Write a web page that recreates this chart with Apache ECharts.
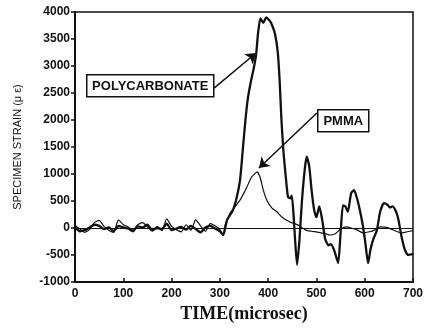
<!DOCTYPE html>
<html>
<head>
<meta charset="utf-8">
<script src="https://cdn.jsdelivr.net/npm/echarts@6/dist/echarts.min.js"></script>
<style>
  html, body { margin: 0; padding: 0; background: #fff; }
  #chart { width: 426px; height: 329px; }
</style>
</head>
<body>
<div id="chart"></div>
<script>
// strain readings (micro-strain) against time (microsec)
const pcTime = [0, 10, 20, 30, 40, 50, 60, 70, 80, 90, 100, 110, 120, 130, 140, 150, 160, 170, 180, 190,
  200, 210, 220, 230, 240, 250, 260, 270, 280, 290, 300, 307, 315, 327, 335, 342, 348, 353, 358, 364,
  370, 375, 379, 384, 390, 396, 402, 406, 414, 420, 424, 427, 431, 436, 441, 446, 449, 453, 456, 460,
  465, 470, 476, 480, 485, 490, 495, 500, 506, 512, 518, 525, 530, 537, 545, 550, 555, 560, 565, 572,
  578, 584, 590, 596, 601, 607, 612, 618, 625, 632, 640, 647, 652, 658, 665, 670, 676, 683, 690, 700];
const pcStrain = [20, -60, -40, 10, 60, 40, -20, 10, -60, 40, 10, -10, -60, 30, 10, 60, -40, 0, -20, 80,
  -40, -10, 20, -30, 40, -20, -80, 10, 40, -10, -60, -130, 150, 330, 570, 900, 1500, 2000, 2400, 2700,
  2950, 3200, 3600, 3880, 3800, 3900, 3850, 3800, 3600, 3250, 2700, 2100, 1500, 1000, 580, 550, 600, 200, -250, -680,
  -200, 500, 1100, 1320, 1150, 700, 350, 200, 400, 150, -200, -320, -300, -420, -650, -100, 420, 400, 300, 650,
  700, 550, 330, 50, -250, -650, -400, -200, -50, 300, 460, 430, 380, 400, 300, 150, -150, -400, -500, -480];

const pmmaTime = [0, 10, 20, 30, 40, 50, 60, 70, 80, 90, 100, 110, 120, 130, 140, 150, 160, 170, 180, 190,
  200, 210, 220, 230, 240, 250, 260, 270, 280, 290, 300, 307, 311, 321, 332, 342, 350, 356, 366, 372,
  377, 383, 390, 397, 408, 418, 429, 445, 455, 465, 478, 490, 505, 520, 528, 540, 550, 562, 572, 585,
  596, 610, 620, 632, 645, 655, 665, 677, 688, 700];
const pmmaStrain = [50, -20, -80, -30, 100, 140, 30, -40, -80, 150, 60, 20, -40, 60, 100, 20, -60, 30, -50, 170,
  30, -30, -70, 60, -40, 150, 40, -60, 80, 40, -30, -130, 55, 270, 400, 520, 650, 760, 950, 1000,
  1040, 950, 700, 520, 370, 300, 200, 110, 80, 40, -40, -60, -80, -110, -130, -100, -20, 20, 0, -40,
  -90, -70, -40, 20, 10, -20, -60, -90, -70, -50];

const xTicks = [0, 700, 100];
const yTicks = [-1000, 4000, 500];

// annotation arrows: [fromTime, fromStrain, toTime, toStrain]
const pcArrow = [288, 2590, 375, 3240];
const pmmaArrow = [501, 2130, 381, 1110];

const pairs = (xs, ys) => xs.map((x, i) => [x, ys[i]]);

const chart = echarts.init(document.getElementById('chart'));

const arrowLine = (a) => [
  { coord: [a[0], a[1]], symbol: 'none' },
  { coord: [a[2], a[3]], symbol: 'arrow' },
];

const option = {
  backgroundColor: '#fff',
  animation: false,
  grid: {
    left: 75, right: 13, top: 12, bottom: 47,
    show: true, borderColor: '#111', borderWidth: 1.5,
  },
  xAxis: {
    type: 'value',
    min: xTicks[0], max: xTicks[1], interval: xTicks[2],
    name: 'TIME(microsec)',
    nameLocation: 'middle',
    nameGap: 15,
    nameTextStyle: {
      fontFamily: 'Liberation Serif', fontWeight: 'bold', fontSize: 18, color: '#111',
      verticalAlign: 'top',
    },
    axisLine: { onZero: false, lineStyle: { color: '#111', width: 2 } },
    axisTick: { inside: true, length: 4, lineStyle: { color: '#111', width: 1.5 } },
    axisLabel: {
      margin: 6, color: '#111', fontFamily: 'Liberation Sans', fontWeight: 'bold', fontSize: 12,
      formatter: (v) => String(v),
    },
    splitLine: { show: false },
  },
  yAxis: {
    type: 'value',
    min: yTicks[0], max: yTicks[1], interval: yTicks[2],
    name: 'SPECIMEN STRAIN (\u03bc \u03b5)',
    nameLocation: 'middle',
    nameGap: 52,
    nameRotate: 90,
    nameTextStyle: { fontFamily: 'Liberation Sans', fontSize: 11, color: '#111' },
    axisLine: { onZero: false, lineStyle: { color: '#111', width: 2 } },
    axisTick: { length: 4, lineStyle: { color: '#111', width: 1.5 } },
    axisLabel: {
      margin: 5, color: '#111', fontFamily: 'Liberation Sans', fontWeight: 'bold', fontSize: 12,
      formatter: (v) => String(v),
    },
    splitLine: { show: false },
  },
  series: [
    {
      name: 'PMMA',
      type: 'line',
      data: pairs(pmmaTime, pmmaStrain),
      showSymbol: false,
      smooth: 0.2,
      lineStyle: { color: '#111', width: 1.2 },
      markLine: {
        silent: true,
        symbolSize: 10,
        label: { show: false },
        lineStyle: { color: '#111', width: 1.5, type: 'solid' },
        data: [arrowLine(pcArrow), arrowLine(pmmaArrow)],
      },
    },
    {
      name: 'POLYCARBONATE',
      type: 'line',
      data: pairs(pcTime, pcStrain),
      showSymbol: false,
      smooth: 0.2,
      lineStyle: { color: '#111', width: 2.3 },
      markLine: {
        silent: true,
        symbol: 'none',
        label: { show: false },
        lineStyle: { color: '#111', width: 1, type: 'solid' },
        data: [{ yAxis: 0 }],
      },
    },
  ],
  graphic: [
    {
      type: 'group', left: 86, top: 74,
      children: [
        { type: 'rect', shape: { x: 0, y: 0, width: 127, height: 22 },
          style: { fill: '#fff', stroke: '#111', lineWidth: 1.5 } },
        { type: 'text', x: 63.5, y: 11.5,
          style: { text: 'POLYCARBONATE', fill: '#111', font: 'bold 13px "Liberation Sans"',
            align: 'center', verticalAlign: 'middle' } },
      ],
    },
    {
      type: 'group', left: 317, top: 109,
      children: [
        { type: 'rect', shape: { x: 0, y: 0, width: 51, height: 22 },
          style: { fill: '#fff', stroke: '#111', lineWidth: 1.5 } },
        { type: 'text', x: 25.5, y: 11.5,
          style: { text: 'PMMA', fill: '#111', font: 'bold 13px "Liberation Sans"',
            align: 'center', verticalAlign: 'middle' } },
      ],
    },
  ],
};

chart.setOption(option);
</script>
</body>
</html>
